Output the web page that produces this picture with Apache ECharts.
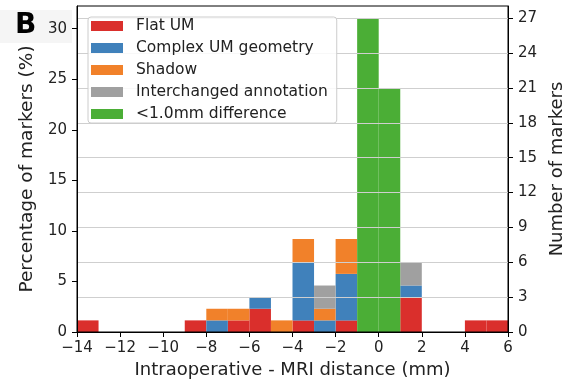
<!DOCTYPE html>
<html>
<head>
<meta charset="utf-8">
<script src="https://cdn.jsdelivr.net/npm/echarts@6/dist/echarts.min.js"></script>
<style>html,body{margin:0;padding:0;background:#fff}#c{width:574px;height:384px}</style>
</head>
<body>
<div id="c"></div>
<script>
// Histogram bins (mm): left edges, width 1
const binEdges = [-14,-13,-12,-11,-10,-9,-8,-7,-6,-5,-4,-3,-2,-1,0,1,2,3,4,5];
const binWidth = 1;
// counts per bin for each category (stacked bottom -> top)
const flatUM        = [1,0,0,0,0,1,0,1,2,0,1,0,1,0,0,3,0,0,1,1];
const complexUM     = [0,0,0,0,0,0,1,0,1,0,5,1,4,0,0,1,0,0,0,0];
const shadow        = [0,0,0,0,0,0,1,1,0,1,2,1,3,0,0,0,0,0,0,0];
const interchanged  = [0,0,0,0,0,0,0,0,0,0,0,2,0,0,0,2,0,0,0,0];
const smallDiff     = [0,0,0,0,0,0,0,0,0,0,0,0,0,27,21,0,0,0,0,0];
const seriesNames = ['Flat UM','Complex UM geometry','Shadow','Interchanged annotation','<1.0mm difference'];
const seriesColors = ['#da2f2c','#4081bb','#f1812a','#a0a0a0','#4bae36'];
const totalMarkers = 87;
const countMax = 28.05;
const xTicks = [-14,-12,-10,-8,-6,-4,-2,0,2,4,6];
const pctTicks = [0,5,10,15,20,25,30];
const countTicks = [0,3,6,9,12,15,18,21,24,27];

const all = [flatUM, complexUM, shadow, interchanged, smallDiff];
const base = binEdges.map(() => 0);
const FONT = 'DejaVu Sans';
const series = all.map((arr, si) => {
  const data = [];
  arr.forEach((v, i) => {
    if (v > 0) data.push([binEdges[i], binEdges[i] + binWidth, base[i], base[i] + v]);
    base[i] += v;
  });
  return {
    type: 'custom', name: seriesNames[si], xAxisIndex: 0, yAxisIndex: 1, z: 2,
    itemStyle: {color: seriesColors[si]},
    encode: {x: [0,1], y: [2,3]},
    renderItem: function (params, api) {
      const p0 = api.coord([api.value(0), api.value(3)]);
      const p1 = api.coord([api.value(1), api.value(2)]);
      return {type: 'rect', shape: {x: p0[0], y: p0[1], width: p1[0]-p0[0], height: p1[1]-p0[1]},
              style: {fill: seriesColors[si]}};
    },
    data: data
  };
});

const chart = echarts.init(document.getElementById('c'), null, {renderer: 'canvas'});
const tickStyle = {show: true, inside: false, length: 5, lineStyle: {color: '#000', width: 1}};
chart.setOption({
  animation: false,
  textStyle: {fontFamily: FONT},
  grid: {left: 77, top: 6, width: 434, height: 326, show: true, borderColor: '#000', borderWidth: 1, backgroundColor: 'transparent', z: 3},
  legend: {
    left: 88, top: 17, orient: 'vertical', icon: 'rect', itemWidth: 32, itemHeight: 10, itemGap: 4,
    padding: [0, 9, 0, 3], backgroundColor: 'rgba(255,255,255,0.85)', borderColor: '#cccccc', borderWidth: 1, borderRadius: 3,
    textStyle: {fontFamily: FONT, fontSize: 15.5, color: '#222', lineHeight: 18, padding: [0,0,0,8]},
    data: seriesNames, z: 6
  },
  graphic: [
    {type: 'rect', left: 0, top: 10, shape: {width: 72, height: 33}, style: {fill: '#f5f5f5'}, z: -1},
    {type: 'text', left: 15, top: 12, style: {text: 'B', font: 'bold 28px "DejaVu Sans"', fill: '#000'}}
  ],
  xAxis: [{
    type: 'value', min: -14, max: 6, interval: 2, z: 3,
    axisLine: {show: true, onZero: false, lineStyle: {color: '#000', width: 1}},
    axisTick: tickStyle, splitLine: {show: false},
    axisLabel: {fontSize: 15, color: '#222', margin: 9, fontFamily: FONT, formatter: v => String(v).replace('-', '\u2212'),
                customValues: xTicks},
    name: 'Intraoperative - MRI distance (mm)', nameLocation: 'middle', nameGap: 26,
    nameTextStyle: {fontSize: 18, color: '#222', fontFamily: FONT}
  }],
  yAxis: [{
    type: 'value', position: 'left', min: 0, max: countMax * 100 / totalMarkers, interval: 5, z: 3,
    axisLine: {show: true, onZero: false, lineStyle: {color: '#000'}},
    axisTick: Object.assign({customValues: pctTicks}, tickStyle),
    axisLabel: {fontSize: 15, color: '#222', margin: 10, fontFamily: FONT, customValues: pctTicks},
    splitLine: {show: false},
    name: 'Percentage of markers (%)', nameLocation: 'middle', nameGap: 37, nameRotate: 90,
    nameTextStyle: {fontSize: 18.5, color: '#222', fontFamily: FONT}
  }, {
    type: 'value', position: 'right', min: 0, max: countMax, interval: 3, z: 3,
    axisLine: {show: true, onZero: false, lineStyle: {color: '#000'}},
    axisTick: Object.assign({customValues: countTicks}, tickStyle),
    axisLabel: {fontSize: 15, color: '#222', margin: 10, fontFamily: FONT, customValues: countTicks},
    splitLine: {show: true, lineStyle: {color: '#cfcfcf', width: 1}},
    name: 'Number of markers', nameLocation: 'middle', nameGap: 40, nameRotate: 90,
    nameTextStyle: {fontSize: 18, color: '#222', fontFamily: FONT}
  }],
  series: series
});
</script>
</body>
</html>
